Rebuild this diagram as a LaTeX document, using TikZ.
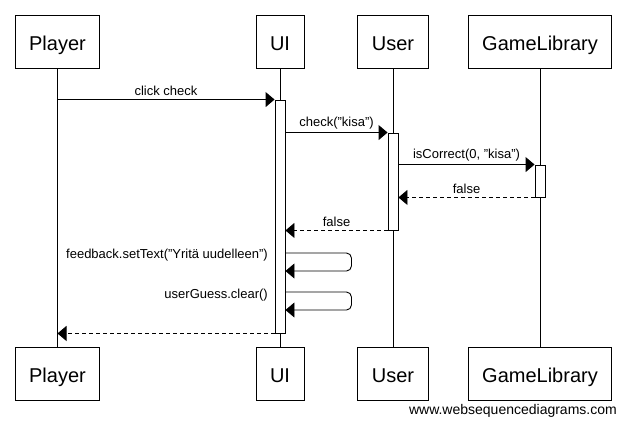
\documentclass[tikz,border=0pt]{standalone}
\usepackage{fontspec}
\setmainfont{Liberation Sans}
\usetikzlibrary{positioning,arrows.meta,calc}
\newcommand{\actorfont}{\fontsize{20}{24}\selectfont}
\newcommand{\msgfont}{\fontsize{13}{15.6}\selectfont}
\tikzset{
  actor/.style = {rectangle, draw=black, fill=white, line width=0.9pt, minimum height=53pt,
                  inner xsep=14pt, inner ysep=0pt, text height=17pt, text depth=0pt,
                  font=\actorfont},
  act/.style   = {rectangle, draw=black, fill=white, line width=0.9pt, minimum width=10pt,
                  inner sep=0pt},
  life/.style  = {line width=0.9pt},
  call/.style  = {-{Triangle[length=9pt, width=15pt]}, line width=0.9pt},
  reply/.style = {call, dash pattern=on 4pt off 3pt},
  msg/.style   = {font=\msgfont, inner sep=0pt, above=3pt},
  selfmsg/.style = {font=\msgfont, inner sep=0pt, anchor=base east},
}

\begin{document}
\begin{tikzpicture}[x=1pt, y=-1pt]
  \fill[white] (0,0) rectangle (626,424);
  \useasboundingbox (0,0) rectangle (626,424);

  % participants, top and bottom, with their lifelines
  \foreach \name/\x/\t in {player/57.5/Player, ui/280/UI, user/393/User, lib/540/GameLibrary} {
    \node[actor] (\name Top) at (\x,41.5) {\t};
    \node[actor] (\name Bot) at (\x,373.5) {\t};
    \draw[life] (\name Top) -- (\name Bot);
  }

  % activations
  \node[act, minimum height=233pt] (uiAct) at (280,216.5) {};
  \node[act, minimum height=97pt] (userAct) at (393,181.5) {};
  \node[act, minimum height=32pt] (libAct) at (540,181) {};

  % messages
  \draw[call] (playerTop |- uiAct.north) -- (uiAct.north west) node[midway, msg] {click check};
  \draw[call] (uiAct.east |- userAct.north) -- (userAct.north west) node[midway, msg] {check("kisa")};
  \draw[call] (userAct.east |- libAct.north) -- (libAct.north west) node[midway, msg] {isCorrect(0, "kisa")};
  \draw[reply] (libAct.south west) -- (userAct.east |- libAct.south) node[midway, msg] {false};
  \draw[reply] (userAct.south west) -- (uiAct.east |- userAct.south) node[midway, msg] {false};

  % self calls on UI
  \coordinate (setOut) at (uiAct.east |- 0,253);
  \draw[call, rounded corners=5pt] (setOut) -- ++(66,0) -- ++(0,18) -- ++(-66,0);
  \node[selfmsg] (setLbl) at (268,258) {feedback.setText("Yritä uudelleen")};
  \coordinate (clearOut) at (uiAct.east |- 0,292);
  \draw[call, rounded corners=5pt] (clearOut) -- ++(66,0) -- ++(0,18) -- ++(-66,0);
  \node[selfmsg] (clearLbl) at (268,298) {userGuess.clear()};

  \draw[reply] (uiAct.south west) -- (playerTop |- uiAct.south);

  \node[font=\fontsize{14}{16.8}\selectfont, anchor=base east, inner sep=0pt] (wsd) at (617,414)
    {www.websequencediagrams.com};
\end{tikzpicture}
\end{document}
